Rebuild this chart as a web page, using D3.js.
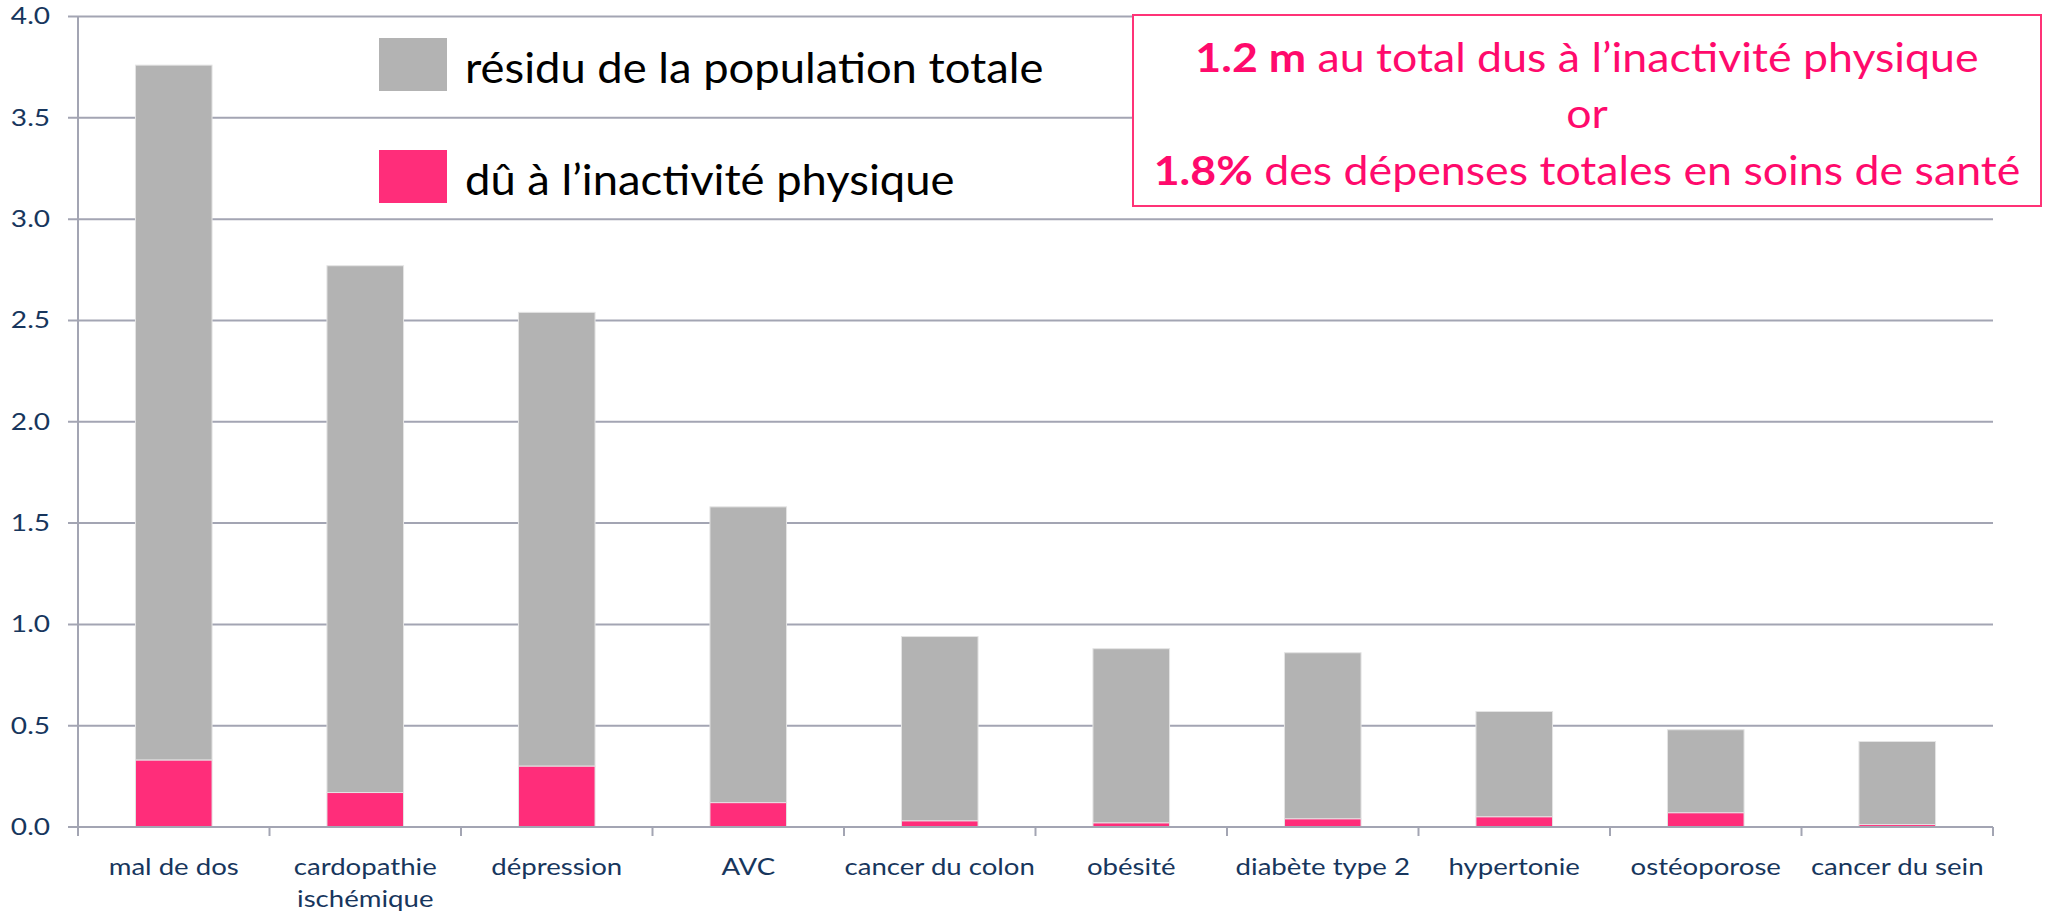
<!DOCTYPE html>
<html>
<head>
<meta charset="utf-8">
<script src="https://cdn.jsdelivr.net/npm/d3@7"></script>
<style>
  body { margin: 0; background: #fff; }
  svg text { font-family: Lato, "Open Sans", sans-serif; }
</style>
</head>
<body>
<div id="chart"></div>
<script>
// ##################################
// Data
// ##################################
const categories = ["mal de dos", "cardopathie ischémique", "dépression", "AVC", "cancer du colon",
                    "obésité", "diabète type 2", "hypertonie", "ostéoporose", "cancer du sein"]
const inactivite = [0.33, 0.17, 0.30, 0.12, 0.03, 0.02, 0.04, 0.05, 0.07, 0.012]
const residu     = [3.43, 2.60, 2.24, 1.46, 0.91, 0.86, 0.82, 0.52, 0.41, 0.41]
const yTicks = [0, 0.5, 1.0, 1.5, 2.0, 2.5, 3.0, 3.5, 4.0]
const legendLabels = ["résidu de la population totale", "dû à l’inactivité physique"]

const W = 2049, H = 916
const gray = "#b3b3b3", pink = "#ff2d7a", gridCol = "#a3a5b3", textCol = "#17365d"

// the reference font (Calibri-like) renders wide; stretch text horizontally around its anchor x
function stretch(sel, k) {
    sel.each(function() {
        const t = d3.select(this)
        const ax = +t.attr("x") || 0
        t.attr("transform", `translate(${ax},0) scale(${k},1) translate(${-ax},0)`)
    })
}

const svg = d3.select("#chart").append("svg")
    .attr("width", W).attr("height", H)

// plot area bounds (window.top is taken, so prefix)
const pLeft = 78, pRight = 1993, pTop = 16.5, pBottom = 827

const x = d3.scaleBand().domain(categories).range([pLeft, pRight])
    .paddingInner(0.6).paddingOuter(0.3)
const y = d3.scaleLinear().domain([0, 4]).range([pBottom, pTop])

// gridlines (extend a bit left of the axis, like the tick marks)
svg.append("g").selectAll("line")
    .data(yTicks)
    .join("line")
        .attr("x1", pLeft - 10).attr("x2", pRight)
        .attr("y1", d => y(d)).attr("y2", d => y(d))
        .attr("stroke", gridCol).attr("stroke-width", 2)

// y tick labels
const yAxis = svg.append("g")
    .attr("transform", `translate(${pLeft - 10},0)`)
    .call(d3.axisLeft(y).tickValues(yTicks).tickFormat(d3.format(".1f")).tickSize(0).tickPadding(18))
yAxis.select(".domain").remove()
yAxis.selectAll("text")
    .attr("fill", textCol).attr("font-size", 23)
stretch(yAxis.selectAll("text"), 1.22)

// stacked bars (residual drawn first so the thin pink slices stay visible)
const rows = categories.map((c, i) => ({cat: c, inactivite: inactivite[i], residu: residu[i]}))
const series = d3.stack().keys(["inactivite", "residu"])(rows).reverse()
const colors = {inactivite: pink, residu: gray}

svg.append("g").selectAll("g")
    .data(series)
    .join("g")
        .attr("fill", d => colors[d.key])
    .selectAll("rect")
    .data(d => d)
    .join("rect")
        .attr("x", d => x(d.data.cat))
        .attr("width", x.bandwidth())
        .attr("y", d => y(d[1]))
        .attr("height", d => y(d[0]) - y(d[1]))
        .attr("stroke", "#e4e4e4")
        .attr("stroke-width", 1)

// axes lines
const step = x.step()
const boundaries = categories.map(c => x(c) - (step - x.bandwidth()) / 2).concat([pRight])
svg.append("line")
    .attr("x1", pLeft).attr("x2", pLeft).attr("y1", pTop).attr("y2", pBottom + 9)
    .attr("stroke", gridCol).attr("stroke-width", 2)
svg.append("line")
    .attr("x1", pLeft).attr("x2", pRight).attr("y1", pBottom).attr("y2", pBottom)
    .attr("stroke", gridCol).attr("stroke-width", 2)
svg.append("g").selectAll("line")
    .data(boundaries)
    .join("line")
        .attr("x1", d => d).attr("x2", d => d)
        .attr("y1", pBottom).attr("y2", pBottom + 9)
        .attr("stroke", gridCol).attr("stroke-width", 2)

// category labels (wrap the long one)
const catLabels = svg.append("g").selectAll("text")
    .data(categories)
    .join("text")
        .attr("x", d => x(d) + x.bandwidth() / 2)
        .attr("y", pBottom + 48)
        .attr("text-anchor", "middle")
        .attr("fill", textCol)
        .attr("font-size", 23)
catLabels.each(function(d) {
    const parts = d === "cardopathie ischémique" ? ["cardopathie", "ischémique"] : [d]
    d3.select(this).selectAll("tspan")
        .data(parts)
        .join("tspan")
            .attr("x", x(d) + x.bandwidth() / 2)
            .attr("dy", (p, i) => i === 0 ? 0 : 32)
            .text(p => p)
})
stretch(catLabels, 1.2)

// legend
const legend = svg.append("g")
const legendY = [38, 150]
legend.selectAll("rect")
    .data(legendLabels)
    .join("rect")
        .attr("x", 379).attr("y", (d, i) => legendY[i])
        .attr("width", 68).attr("height", 53)
        .attr("fill", (d, i) => i === 0 ? gray : pink)
const legText = legend.selectAll("text")
    .data(legendLabels)
    .join("text")
        .attr("x", 465).attr("y", (d, i) => legendY[i] + 45)
        .attr("font-size", 43)
        .attr("fill", "#000")
        .text(d => d)
stretch(legText, 1.055)

// annotation box
const box = svg.append("g")
box.append("rect")
    .attr("x", 1133).attr("y", 15).attr("width", 908).attr("height", 191)
    .attr("fill", "#fff").attr("stroke", "#ff3377").attr("stroke-width", 2)
const boxLines = [
    [{t: "1.2 m", b: true}, {t: " au total dus à l’inactivité physique", b: false}],
    [{t: "or", b: false}],
    [{t: "1.8%", b: true}, {t: " des dépenses totales en soins de santé", b: false}]
]
const boxText = box.selectAll("text")
    .data(boxLines)
    .join("text")
        .attr("x", 1587).attr("y", (d, i) => 72 + i * 56.5)
        .attr("text-anchor", "middle")
        .attr("font-size", 41)
        .attr("fill", "#ff0a6c")
boxText.selectAll("tspan")
    .data(d => d)
    .join("tspan")
        .attr("font-weight", d => d.b ? "bold" : "normal")
        .text(d => d.t)
stretch(boxText, 1.09)
</script>
</body>
</html>
